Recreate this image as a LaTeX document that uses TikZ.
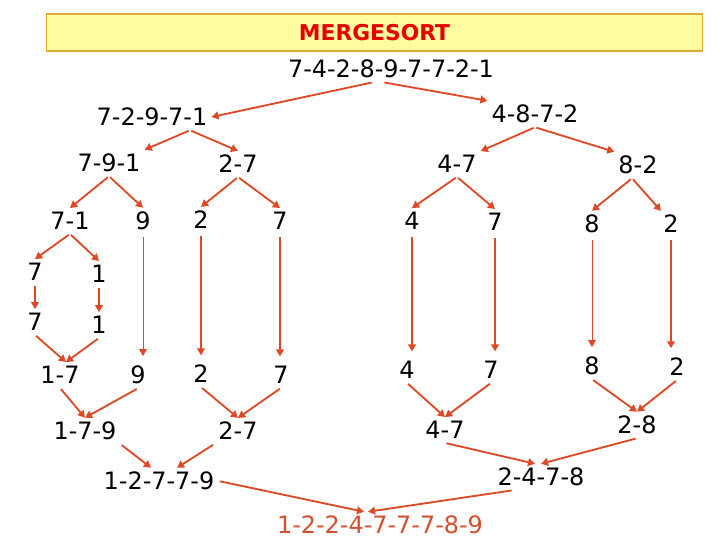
\documentclass[tikz,border=0pt]{standalone}
\usepackage{fontspec}
\setmainfont{DejaVu Sans}
\usetikzlibrary{arrows.meta}
\definecolor{arrowred}{RGB}{222,72,36}
\definecolor{finalred}{RGB}{214,78,44}
\definecolor{titlered}{RGB}{230,0,0}
\definecolor{boxfill}{RGB}{255,252,160}
\definecolor{boxline}{RGB}{222,170,50}
\begin{document}
\begin{tikzpicture}[x={(0.025cm,0cm)},y={(0cm,-0.025cm)},every node/.style={inner sep=0pt, outer sep=3pt, font=\fontsize{17}{20}\selectfont},
  arr/.style={draw=arrowred, line width=1.3pt, shorten <=1pt, -{Triangle[length=5pt,width=5.5pt]}},
  thinarr/.style={arr, line width=0.7pt},
  vline/.style={shorten >=4pt, shorten <=2pt},
  titlebox/.style={draw=boxline, line width=0.8pt, fill=boxfill, minimum width=16.375cm, minimum height=0.925cm, outer sep=0pt, text=titlered, font=\fontsize{15.5}{18}\selectfont\bfseries}]
\useasboundingbox (0,0) rectangle (720,540);
\node[titlebox] (title) at (374.5,32.5) {MERGESORT};
\node (root) at (391,69) {7-4-2-8-9-7-7-2-1};
\node (l) at (152,117) {7-2-9-7-1};
\node (r) at (535,114) {4-8-7-2};
\node (ll) at (109,163) {7-9-1};
\node (lr) at (238,164) {2-7};
\node (rl) at (457,164) {4-7};
\node (rr) at (638,165) {8-2};
\node (lll) at (70,221) {7-1};
\node (llr) at (143,221) {9};
\node (lrl) at (201,220) {2};
\node (lrr) at (280,221) {7};
\node (rll) at (412,221) {4};
\node (rlr) at (495,222) {7};
\node (rrl) at (592,224) {8};
\node (rrr) at (671,224) {2};
\node (a7) at (35,272) {7};
\node (a1) at (99,274) {1};
\node (b7) at (35,322) {7};
\node (b1) at (99,325) {1};
\node (m17) at (60,375) {1-7};
\node (m9) at (138,375) {9};
\node (m2) at (201,374) {2};
\node (m7) at (281,375) {7};
\node (m4) at (407,370) {4};
\node (m7b) at (491,370) {7};
\node (m8) at (592,366) {8};
\node (m2b) at (677,367) {2};
\node (m179) at (85,431) {1-7-9};
\node (m27) at (238,431) {2-7};
\node (m47) at (445,430) {4-7};
\node (m28) at (637,425) {2-8};
\node (m12779) at (159,481) {1-2-7-7-9};
\node (m2478) at (541,477) {2-4-7-8};
\node[text=finalred] (final) at (380,525) {1-2-2-4-7-7-7-8-9};
\draw[arr] ([xshift=-0.45cm]root.south) -- (l.east);
\draw[arr] ([xshift=-0.2cm]root.south) -- (r.north west);
\draw[arr] ([xshift=0.95cm]l.south) -- (ll.north east);
\draw[arr] ([xshift=0.95cm]l.south) -- (lr.north);
\draw[arr] (r.south) -- (rl.north east);
\draw[arr] (r.south) -- (rr.north west);
\draw[arr] (ll.south) -- (lll.north);
\draw[arr] (ll.south) -- (llr.north);
\draw[arr] (lr.south) -- (lrl.north);
\draw[arr] (lr.south) -- (lrr.north);
\draw[arr] (rl.south) -- (rll.north);
\draw[arr] (rl.south) -- (rlr.north);
\draw[arr] ([xshift=-0.15cm]rr.south) -- (rrl.north);
\draw[arr] ([xshift=-0.15cm]rr.south) -- ([xshift=-0.25cm]rrr.north);
\draw[arr] (lll.south) -- (a7.north);
\draw[arr] (lll.south) -- (a1.north);
\draw[arr] (a7.south) -- (b7.north);
\draw[arr] (a1.south) -- (b1.north);
\draw[thinarr,vline] (llr.south) -- (llr.south |- m9.north);
\draw[arr,vline] (lrl.south) -- (lrl.south |- m2.north);
\draw[arr,vline] (lrr.south) -- (lrr.south |- m7.north);
\draw[arr,vline] (rll.south) -- (rll.south |- m4.north);
\draw[arr,vline] (rlr.south) -- (rlr.south |- m7b.north);
\draw[thinarr,vline] (rrl.south) -- (rrl.south |- m8.north);
\draw[arr,vline] (rrr.south) -- (rrr.south |- m2b.north);
\draw[arr] (b7.south) -- ([xshift=0.15cm]m17.north);
\draw[arr] (b1.south) -- ([xshift=0.15cm]m17.north);
\draw[arr] (m17.south) -- (m179.north);
\draw[arr] (m9.south) -- (m179.north);
\draw[arr] (m2.south) -- (m27.north);
\draw[arr] (m7.south) -- (m27.north);
\draw[arr] (m4.south) -- (m47.north);
\draw[arr] (m7b.south) -- (m47.north);
\draw[arr] (m8.south) -- (m28.north);
\draw[arr] (m2b.south) -- (m28.north);
\draw[arr] (m179.south east) -- ([xshift=-0.2cm]m12779.north);
\draw[arr] (m27.south west) -- ([xshift=0.45cm]m12779.north);
\draw[arr] (m47.south) -- ([xshift=-0.15cm]m2478.north);
\draw[arr] (m28.south) -- (m2478.north);
\draw[arr] (m12779.east) -- ([xshift=-0.4cm]final.north);
\draw[arr] ([xshift=-0.7cm]m2478.south) -- ([xshift=-0.3cm]final.north);
\end{tikzpicture}
\end{document}
